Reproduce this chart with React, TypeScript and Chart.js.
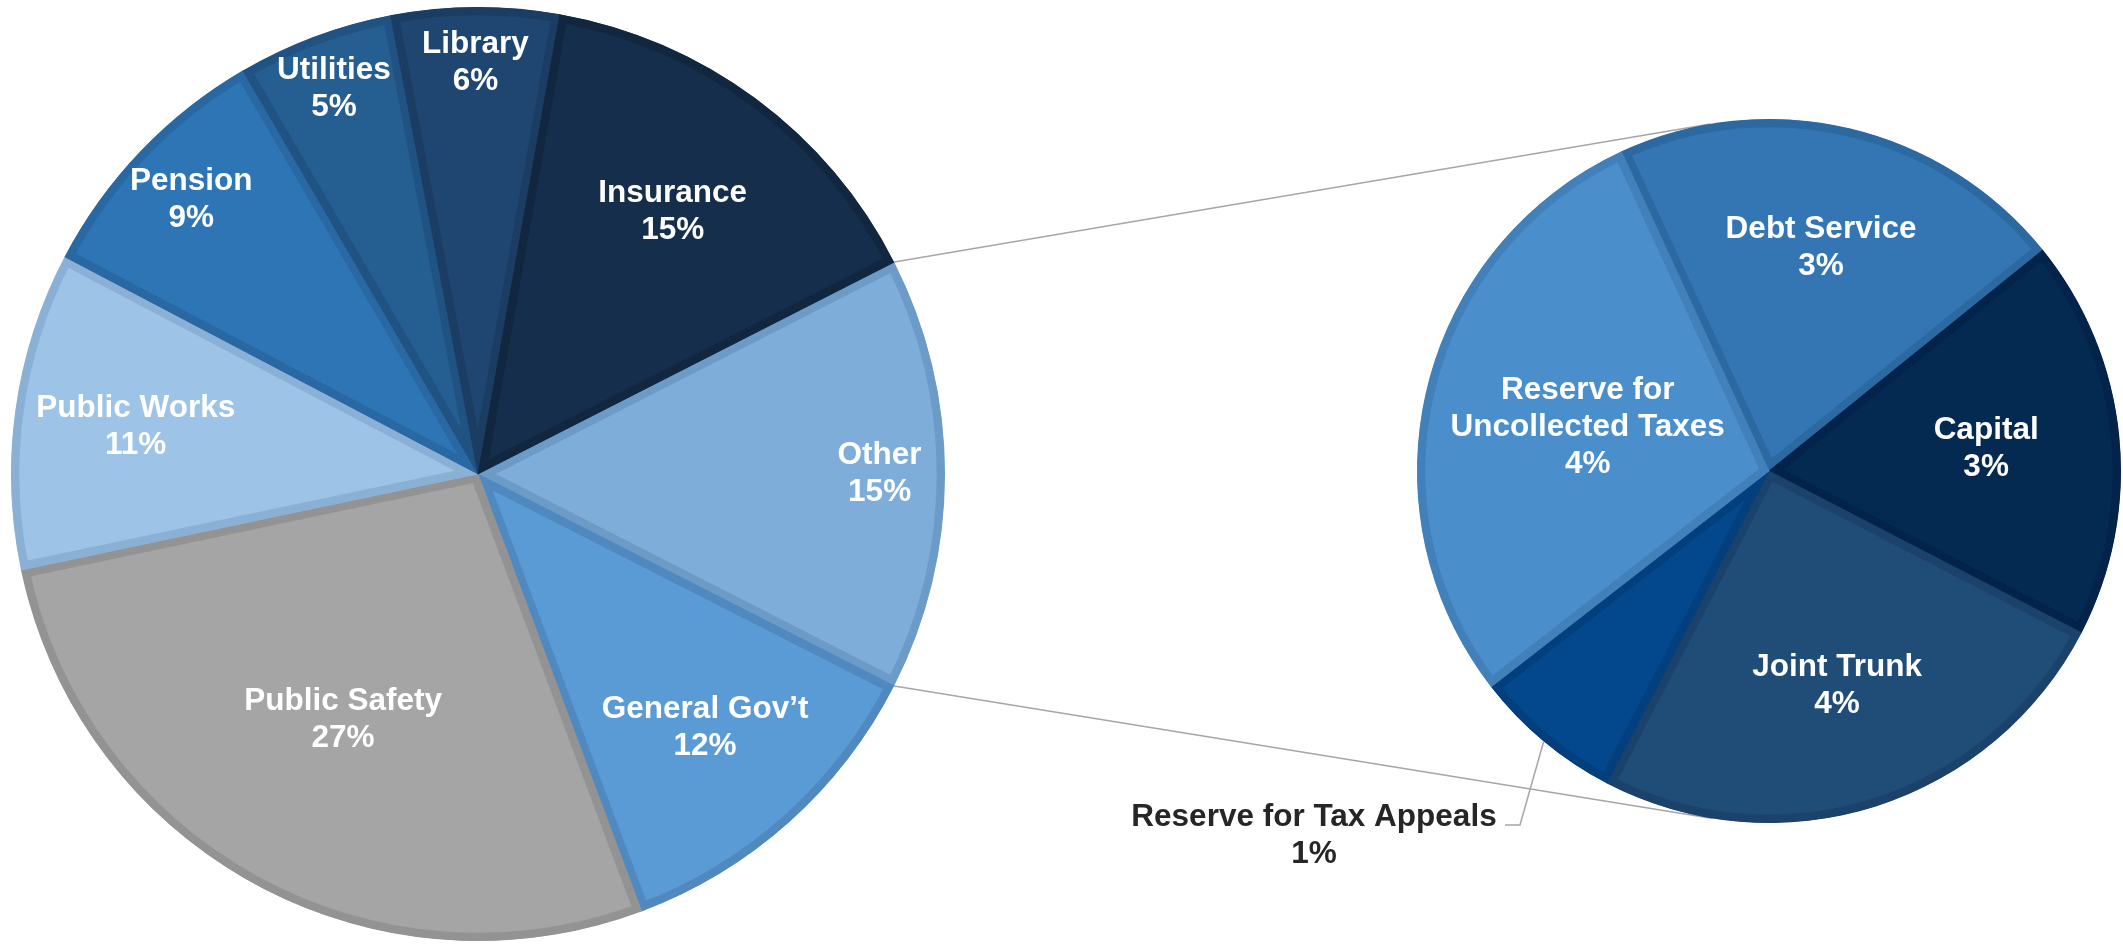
import { useEffect, useRef } from "react";
import { Chart, registerables } from "chart.js";

Chart.register(...registerables);

const W = 2123;
const H = 945;

// Budget shares (% of total), clockwise after "Other"
const budgetCategories = ["General Gov’t", "Public Safety", "Public Works", "Pension", "Utilities", "Library", "Insurance"];
const budgetShares = [11.8, 27.4, 11.0, 8.9, 5.4, 5.8, 14.7];

// Breakdown of the "Other" slice (% of total), clockwise from Debt Service
const otherName = "Other";
const otherCategories = ["Debt Service", "Capital", "Joint Trunk", "Reserve for Tax Appeals", "Reserve for\nUncollected Taxes"];
const otherShares = [3.16, 2.76, 3.75, 1.03, 4.29];

const mainFill = ["#7eadda", "#5b9bd5", "#a5a5a5", "#9dc3e6", "#2e75b6", "#255e91", "#1f4670", "#152e4b"];
const mainEdge = ["#6c9bc7", "#4f89c0", "#939393", "#8ab1d5", "#2968a3", "#205282", "#1b3d63", "#11263f"];
const subFill = ["#3476b3", "#042a52", "#204c78", "#03488c", "#4a8fcc"];
const subEdge = ["#2d69a1", "#03234a", "#1b426b", "#033f7d", "#4180b9"];

// radial placement of in-slice labels, as a fraction of the radius
const mainLabelRadius = [0.86, 0.73, 0.6, 0.74, 0.85, 0.88, 0.88, 0.7];
const subLabelRadius = [0.65, 0.62, 0.64, null, 0.53];

const FONT = 'bold 31.5px "Liberation Sans", Arial, sans-serif';
const LINE_H = 37;

const otherTotal = otherShares.reduce((a, b) => a + b, 0);
const mainLabels = [otherName, ...budgetCategories];
const mainValues = [otherTotal, ...budgetShares];
const grandTotal = mainValues.reduce((a, b) => a + b, 0);
const pct = (v: number) => `${Math.round((v / grandTotal) * 100)}%`;

function drawBlock(ctx: CanvasRenderingContext2D, lines: string[], x: number, y: number, color: string) {
  ctx.save();
  ctx.font = FONT;
  ctx.fillStyle = color;
  ctx.textAlign = "center";
  ctx.textBaseline = "middle";
  const top = y - ((lines.length - 1) * LINE_H) / 2;
  lines.forEach((t, i) => ctx.fillText(t, x, top + i * LINE_H));
  ctx.restore();
}

function sliceLabels(names: string[], values: number[], radii: (number | null)[]) {
  return {
    id: "sliceLabels",
    afterDatasetsDraw(chart: any) {
      const meta = chart.getDatasetMeta(0);
      meta.data.forEach((arc: any, i: number) => {
        const r = radii[i];
        if (r == null) return;
        const p = arc.getProps(["x", "y", "startAngle", "endAngle", "outerRadius"], true);
        const mid = (p.startAngle + p.endAngle) / 2;
        const lx = p.x + Math.cos(mid) * p.outerRadius * r;
        const ly = p.y + Math.sin(mid) * p.outerRadius * r;
        drawBlock(chart.ctx, [...names[i].split("\n"), pct(values[i])], lx, ly, "#ffffff");
      });
    },
  };
}

export default function App() {
  const mainRef = useRef<HTMLCanvasElement>(null);
  const subRef = useRef<HTMLCanvasElement>(null);

  useEffect(() => {
    if (!mainRef.current || !subRef.current) return;

    const otherDeg = (otherTotal / grandTotal) * 360;

    const main = new Chart(mainRef.current, {
      type: "pie",
      data: {
        labels: mainLabels,
        datasets: [
          {
            data: mainValues,
            backgroundColor: mainFill,
            borderColor: mainEdge,
            borderWidth: 8,
            borderAlign: "inner",
            hoverOffset: 0,
          } as any,
        ],
      },
      options: {
        responsive: false,
        animation: false,
        devicePixelRatio: 1,
        events: [],
        rotation: 90 - otherDeg / 2,
        layout: { padding: { left: 11, top: 7, right: W - 945, bottom: H - 941 } },
        plugins: { legend: { display: false }, tooltip: { enabled: false } },
      },
      plugins: [sliceLabels(mainLabels, mainValues, mainLabelRadius)],
    });

    const connectors = {
      id: "connectors",
      beforeDatasetsDraw(chart: any) {
        const ctx = chart.ctx;
        const src = main.getDatasetMeta(0).data[0] as any;
        const s = src.getProps(["x", "y", "startAngle", "endAngle", "outerRadius"], true);
        const dst = chart.getDatasetMeta(0).data[0] as any;
        const d = dst.getProps(["x", "y", "outerRadius"], true);
        const tangent = (px: number, py: number, sign: number) => {
          const dist = Math.hypot(px - d.x, py - d.y);
          const theta = Math.atan2(py - d.y, px - d.x);
          const a = theta + sign * Math.acos(d.outerRadius / dist);
          return [d.x + Math.cos(a) * d.outerRadius, d.y + Math.sin(a) * d.outerRadius];
        };
        const p1 = [s.x + Math.cos(s.startAngle) * s.outerRadius, s.y + Math.sin(s.startAngle) * s.outerRadius];
        const p2 = [s.x + Math.cos(s.endAngle) * s.outerRadius, s.y + Math.sin(s.endAngle) * s.outerRadius];
        const t1 = tangent(p1[0], p1[1], 1);
        const t2 = tangent(p2[0], p2[1], -1);
        ctx.save();
        ctx.strokeStyle = "#a6a6a6";
        ctx.lineWidth = 1.5;
        ctx.beginPath();
        ctx.moveTo(p1[0], p1[1]);
        ctx.lineTo(t1[0], t1[1]);
        ctx.moveTo(p2[0], p2[1]);
        ctx.lineTo(t2[0], t2[1]);
        ctx.stroke();
        ctx.restore();
      },
    };

    // outside label with leader line for the small slice
    const callout = {
      id: "callout",
      afterDatasetsDraw(chart: any) {
        const i = subLabelRadius.findIndex((r) => r == null);
        if (i < 0) return;
        const arc = chart.getDatasetMeta(0).data[i] as any;
        const p = arc.getProps(["x", "y", "startAngle", "endAngle", "outerRadius"], true);
        const mid = (p.startAngle + p.endAngle) / 2;
        const ex = p.x + Math.cos(mid) * p.outerRadius;
        const ey = p.y + Math.sin(mid) * p.outerRadius;
        const ctx = chart.ctx;
        ctx.save();
        ctx.strokeStyle = "#a6a6a6";
        ctx.lineWidth = 1.5;
        ctx.beginPath();
        ctx.moveTo(ex, ey);
        ctx.lineTo(1520, 825);
        ctx.lineTo(1505, 825);
        ctx.stroke();
        ctx.restore();
        drawBlock(ctx, [...otherCategories[i].split("\n"), pct(otherShares[i])], 1314, 836, "#262626");
      },
    };

    const sub = new Chart(subRef.current, {
      type: "pie",
      data: {
        labels: otherCategories,
        datasets: [
          {
            data: otherShares,
            backgroundColor: subFill,
            borderColor: subEdge,
            borderWidth: 8,
            borderAlign: "inner",
            hoverOffset: 0,
          } as any,
        ],
      },
      options: {
        responsive: false,
        animation: false,
        devicePixelRatio: 1,
        events: [],
        rotation: -24.8,
        layout: { padding: { left: 1417, top: 119, right: W - 2121, bottom: H - 823 } },
        plugins: { legend: { display: false }, tooltip: { enabled: false } },
      },
      plugins: [connectors, sliceLabels(otherCategories, otherShares, subLabelRadius), callout],
    });

    return () => {
      sub.destroy();
      main.destroy();
    };
  }, []);

  return (
    <div
      style={{
        position: "fixed",
        left: 0,
        top: 0,
        width: W,
        height: H,
        background: "#ffffff",
        overflow: "hidden",
      }}
    >
      <canvas ref={mainRef} width={W} height={H} style={{ position: "absolute", left: 0, top: 0, width: W, height: H }} />
      <canvas ref={subRef} width={W} height={H} style={{ position: "absolute", left: 0, top: 0, width: W, height: H }} />
    </div>
  );
}
